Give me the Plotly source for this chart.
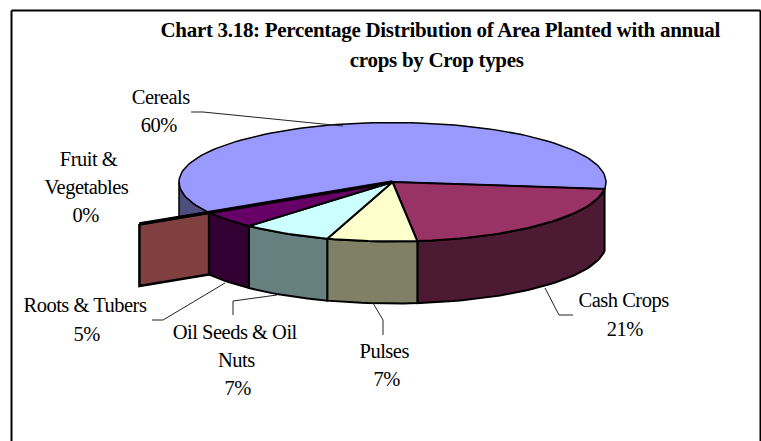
import math
import plotly.graph_objects as go

# ---- data ----
categories = ["Cereals", "Cash Crops", "Pulses", "Oil Seeds & Oil Nuts", "Roots & Tubers", "Fruit & Vegetables"]
values = [60.4, 21.3, 6.8, 6.8, 4.7, 0.0]
percent_labels = ["60%", "21%", "7%", "7%", "5%", "0%"]
top_colors = ["#9999FF", "#993366", "#FFFFCC", "#CCFFFF", "#660066", "#FF8080"]
side_colors = ["#4D4D80", "#4D1A33", "#808066", "#668080", "#330033", "#804040"]
title_lines = ["Chart 3.18: Percentage Distribution of Area Planted with annual",
               "crops by Crop types"]

# ---- projection of the tilted pie (pixels) ----
CX, CY, RX, RY, DEPTH = 392.5, 182.0, 213.5, 59.5, 62.0
START = 149.2            # screen angle where the first slice begins
ZERO_WALL = 1.38         # how far the wall of the empty slice sticks out


def rim(t, dz=0.0, k=1.0):
    r = math.radians(t)
    return CX + k * RX * math.cos(r), CY + k * RY * math.sin(r) + dz


def arc(t0, t1, dz=0.0):
    n = max(2, int(abs(t1 - t0) / 2) + 2)
    return [rim(t0 + (t1 - t0) * i / (n - 1), dz) for i in range(n)]


def poly(pts, fill, width=2.0):
    return go.Scatter(x=[p[0] for p in pts] + [pts[0][0]],
                      y=[p[1] for p in pts] + [pts[0][1]],
                      mode="lines", fill="toself", fillcolor=fill,
                      line=dict(color="#000000", width=width),
                      hoverinfo="skip", showlegend=False)


total = sum(values)
spans = []
t = START
for v in values:
    sweep = 360.0 * v / total
    spans.append((t, t + sweep))
    t += sweep

fig = go.Figure()

# walls, back to front
c_t0, c_t1 = spans[0]
fig.add_trace(poly(arc(c_t0, 180) + arc(180, c_t0, DEPTH), side_colors[0], 1.5))
fz = spans[5][0]
inner, outer = rim(fz), rim(fz, 0, ZERO_WALL)
fig.add_trace(poly([outer, inner, (inner[0], inner[1] + DEPTH), (outer[0], outer[1] + DEPTH)], side_colors[5], 2.5))
for i in (1, 2, 3, 4):
    a, b = spans[i]
    fig.add_trace(poly(arc(a, b) + arc(b, a, DEPTH), side_colors[i], 2))
# tops
for i in range(5):
    a, b = spans[i]
    fig.add_trace(poly([(CX, CY)] + arc(a, b), top_colors[i], 1.5 if i == 0 else 2))
# empty slice edge
fig.add_trace(go.Scatter(x=[CX, outer[0]], y=[CY, outer[1]], mode="lines",
                         line=dict(color="#000000", width=3.5), hoverinfo="skip", showlegend=False))

# ---- leader lines (layout) ----
leaders = [
    [(191, 112), (203, 112), (343, 126)],
    [(545, 288), (559, 315), (573, 315)],
    [(373, 303), (383, 320), (383, 335)],
    [(277, 295), (233, 301), (233, 315)],
    [(225, 283), (163, 320), (152, 320)],
]
for pts in leaders:
    fig.add_trace(go.Scatter(x=[p[0] for p in pts], y=[p[1] for p in pts], mode="lines",
                             line=dict(color="#222222", width=1), hoverinfo="skip", showlegend=False))

# ---- text ----
FONT = "Liberation Serif"
ann = []


def text(x, y, s, size=20.5, bold=False):
    ann.append(dict(x=x, y=y, xref="x", yref="y", text=f"<b>{s}</b>" if bold else s, showarrow=False,
                    xanchor="center", yanchor="middle",
                    font=dict(family=FONT, size=size, color="#000000")))


text(440, 30, title_lines[0], 21, True)
text(437, 60, title_lines[1], 21, True)
text(160, 97, categories[0]); text(159, 125, percent_labels[0])
text(623, 300, categories[1]); text(625, 329, percent_labels[1])
text(384, 351, categories[2]); text(386, 379, percent_labels[2])
text(235, 332, "Oil Seeds &amp; Oil"); text(236, 360, "Nuts"); text(237, 388, percent_labels[3])
text(85, 305, "Roots &amp; Tubers"); text(86, 334, percent_labels[4])
text(88, 159, "Fruit &amp;"); text(86, 187, "Vegetables"); text(85, 215, percent_labels[5])

fig.update_layout(
    width=761, height=441, margin=dict(l=0, r=0, t=0, b=0),
    paper_bgcolor="#FFFFFF", plot_bgcolor="#FFFFFF", showlegend=False,
    xaxis=dict(range=[0, 761], visible=False, fixedrange=True),
    yaxis=dict(range=[441, 0], visible=False, fixedrange=True),
    annotations=ann,
    shapes=[dict(type="line", x0=11.5, x1=11.5, y0=10.5, y1=441, line=dict(color="#000", width=2)),
            dict(type="line", x0=11.5, x1=760.5, y0=10.5, y1=10.5, line=dict(color="#000", width=2)),
            dict(type="line", x0=760.5, x1=760.5, y0=10.5, y1=441, line=dict(color="#000", width=2))],
)
fig.write_html("out.html",
               post_script="document.body.style.margin='0';document.body.style.overflow='hidden';"
                           "document.querySelectorAll('.annotation-text').forEach(function(e){"
                           "e.style.letterSpacing=e.querySelector('[style*=\"bold\"]')?'-0.3px':'-0.5px';});",
               config={"displayModeBar": False})
